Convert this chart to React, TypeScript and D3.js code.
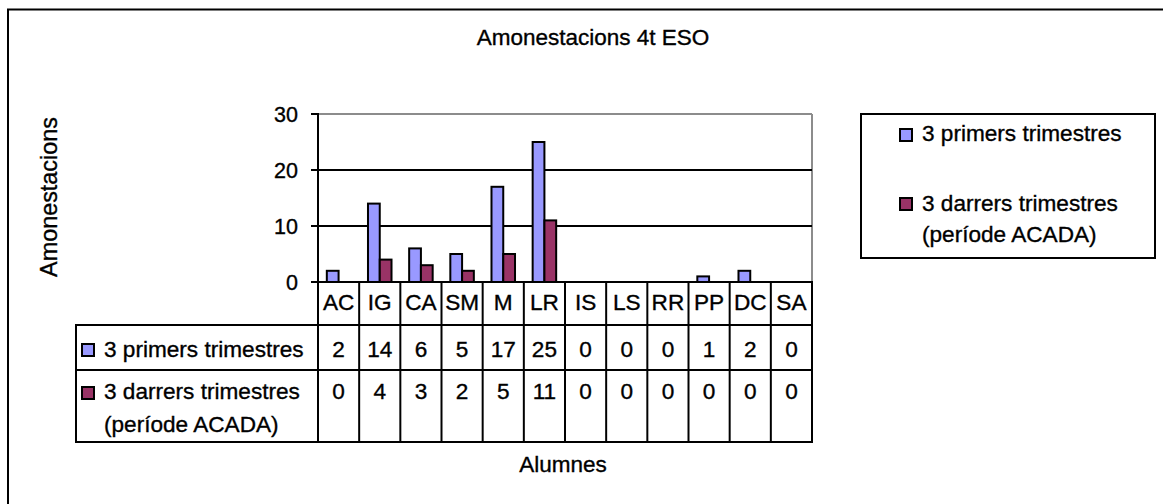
import React from "react";
import * as d3 from "d3";

const categories = ["AC", "IG", "CA", "SM", "M", "LR", "IS", "LS", "RR", "PP", "DC", "SA"];
const seriesNames = ["3 primers trimestres", "3 darrers trimestres"];
const seriesSub = ["", "(període ACADA)"];
const primers = [2, 14, 6, 5, 17, 25, 0, 0, 0, 1, 2, 0];
const darrers = [0, 4, 3, 2, 5, 11, 0, 0, 0, 0, 0, 0];
const yTicks = [0, 10, 20, 30];
const colors = ["#9999FF", "#993366"];
const title = "Amonestacions 4t ESO";
const yLabel = "Amonestacions";
const xLabel = "Alumnes";

const W = 1163;
const H = 504;
const FONT = "'Liberation Sans', Arial, Helvetica, sans-serif";

export default function App() {
  const plotL = 318, plotR = 812, plotT = 114, plotB = 282;
  const x = d3.scaleBand<string>().domain(categories).range([plotL, plotR]).paddingInner(0).paddingOuter(0);
  const inner = d3.scaleBand<string>().domain(["0", "1"]).range([0, x.bandwidth()]).paddingInner(0).paddingOuter(0.75);
  const y = d3.scaleLinear().domain([0, 30]).range([plotB, plotT]);
  const series = [primers, darrers];

  const tblL = 76;
  const rowHeader = [282, 325];
  const row1 = [325, 370];
  const row2 = [370, 442];
  const fs = 22.6;
  const ts = { stroke: "#000", strokeWidth: 0.35 } as const;

  const boundaries = [...categories.map((c) => x(c)!), plotR];

  return (
    <svg width={W} height={H} style={{ position: "absolute", left: 0, top: 0, background: "#fff" }} fontFamily={FONT}>
      <rect x={0} y={0} width={W} height={H} fill="#fff" />
      {/* outer frame */}
      <rect x={8} y={9.5} width={W + 20} height={H + 20} fill="none" stroke="#000" strokeWidth={2} />
      {/* title */}
      <text x={593} y={45} textAnchor="middle" fontSize={22.5} {...ts}>{title}</text>
      {/* y label */}
      <text transform={`translate(57,197) rotate(-90)`} textAnchor="middle" fontSize={23.4} {...ts}>{yLabel}</text>

      {/* plot frame top/right (gray) */}
      <line x1={plotL} x2={plotR} y1={y(30)} y2={y(30)} stroke="#8c8c8c" strokeWidth={2} />
      <line x1={plotR} x2={plotR} y1={plotT} y2={plotB} stroke="#8c8c8c" strokeWidth={2} />
      {/* gridlines */}
      {yTicks.filter((t) => t !== 0 && t !== 30).map((t) => (
        <line key={t} x1={plotL} x2={plotR} y1={y(t)} y2={y(t)} stroke="#000" strokeWidth={2} />
      ))}
      {/* bars */}
      {series.map((vals, si) =>
        categories.map((c, ci) =>
          vals[ci] > 0 ? (
            <rect
              key={`${si}-${c}`}
              x={x(c)! + inner(String(si))!}
              y={y(vals[ci])}
              width={inner.bandwidth()}
              height={y(0) - y(vals[ci])}
              fill={colors[si]}
              stroke="#000"
              strokeWidth={2}
            />
          ) : null
        )
      )}
      {/* y axis */}
      <line x1={plotL} x2={plotL} y1={plotT - 1} y2={plotB} stroke="#000" strokeWidth={2} />
      {yTicks.map((t) => (
        <g key={t}>
          <line x1={plotL - 7} x2={plotL} y1={y(t)} y2={y(t)} stroke="#000" strokeWidth={2} />
          <text x={298} y={y(t) + 7.5} textAnchor="end" fontSize={21.5} {...ts}>{t}</text>
        </g>
      ))}

      {/* data table */}
      <g stroke="#000" strokeWidth={2} fill="none">
        <line x1={plotL - 1} x2={plotR + 1} y1={rowHeader[0]} y2={rowHeader[0]} />
        <line x1={tblL - 1} x2={plotR + 1} y1={row1[0]} y2={row1[0]} />
        <line x1={tblL - 1} x2={plotR + 1} y1={row2[0]} y2={row2[0]} />
        <line x1={tblL - 1} x2={plotR + 1} y1={row2[1]} y2={row2[1]} />
        <line x1={tblL} x2={tblL} y1={row1[0]} y2={row2[1]} />
        {boundaries.map((b, i) => (
          <line key={i} x1={b} x2={b} y1={rowHeader[0]} y2={row2[1]} />
        ))}
      </g>
      {categories.map((c, ci) => {
        const cx = x(c)! + x.bandwidth() / 2;
        return (
          <g key={c} fontSize={fs} textAnchor="middle" {...ts}>
            <text x={cx} y={310}>{c}</text>
            <text x={cx} y={356.5}>{primers[ci]}</text>
            <text x={cx} y={399}>{darrers[ci]}</text>
          </g>
        );
      })}
      {/* row legends */}
      <rect x={82} y={344} width={12} height={12} fill={colors[0]} stroke="#000" strokeWidth={2} />
      <text x={104} y={356.5} fontSize={fs} {...ts}>{seriesNames[0]}</text>
      <rect x={82} y={387} width={12} height={12} fill={colors[1]} stroke="#000" strokeWidth={2} />
      <text x={104} y={399} fontSize={fs} {...ts}>{seriesNames[1]}</text>
      <text x={104} y={431.5} fontSize={fs} {...ts}>{seriesSub[1]}</text>

      {/* x label */}
      <text x={563} y={471.5} textAnchor="middle" fontSize={22.5} {...ts}>{xLabel}</text>

      {/* legend */}
      <rect x={861} y={114} width={294} height={144} fill="#fff" stroke="#000" strokeWidth={2} />
      <rect x={900} y={129} width={12} height={12} fill={colors[0]} stroke="#000" strokeWidth={2} />
      <text x={922} y={141} fontSize={fs} {...ts}>{seriesNames[0]}</text>
      <rect x={900} y={198} width={12} height={12} fill={colors[1]} stroke="#000" strokeWidth={2} />
      <text x={922} y={210.5} fontSize={fs} {...ts}>{seriesNames[1]}</text>
      <text x={922} y={241.5} fontSize={fs} {...ts}>{seriesSub[1]}</text>
    </svg>
  );
}
